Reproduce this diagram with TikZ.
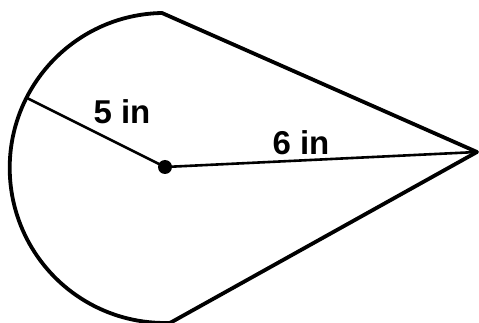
\documentclass[tikz,border=0pt]{standalone}
\usepackage{fontspec}
\setmainfont{Liberation Sans}
\usetikzlibrary{positioning,calc}

\begin{document}
\begin{tikzpicture}[x=1pt, y=-1pt]
  \useasboundingbox (0,0) rectangle (479,323);
  \tikzset{outline/.style={line width=3.8pt, line join=round}, radius line/.style={line width=2.6pt},
    lbl/.style={font=\fontsize{33}{36}\selectfont\bfseries, inner sep=0pt}}
  \coordinate (c) at (165,167); \coordinate (p) at (477,152);
  \coordinate (t) at (162,13); \coordinate (b) at (170,321); \coordinate (r) at (27,98);
  \draw[outline] (t) arc[start angle=-91, end angle=-272, radius=155] -- (p) -- cycle;
  \draw[radius line] (r) -- (c) -- (p);
  \fill (c) circle (7);
  \node[lbl] (l5) at (122,112) {5 in}; \node[lbl] (l6) at (301,143) {6 in};
\end{tikzpicture}
\end{document}
